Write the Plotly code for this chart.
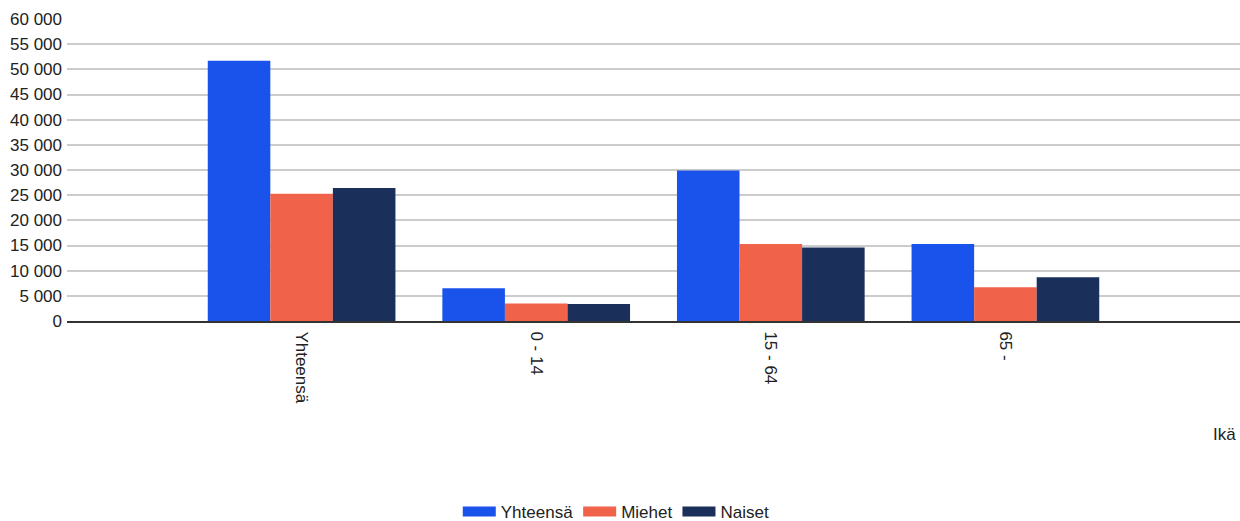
import plotly.graph_objects as go

categories = ["Yhteensä", "0 - 14", "15 - 64", "65 -"]
series_names = ["Yhteensä", "Miehet", "Naiset"]
yhteensa = [51700, 6500, 29900, 15300]
miehet = [25300, 3500, 15300, 6700]
naiset = [26400, 3400, 14600, 8700]
colors = ["#1a53ec", "#f0634a", "#1b2f5b"]
y_ticks = list(range(0, 60001, 5000))

fig = go.Figure()
for name, vals, col in zip(series_names, [yhteensa, miehet, naiset], colors):
    fig.add_trace(go.Bar(name=name, x=categories, y=vals, legendgroup=name,
                         showlegend=False,
                         marker=dict(color=col, line=dict(width=0))))
# legend entries drawn as wide swatches
for name, col in zip(series_names, colors):
    fig.add_trace(go.Scatter(name=name, x=[categories[0]], y=[None], mode="lines",
                             legendgroup=name, showlegend=True,
                             line=dict(color=col, width=13), hoverinfo="skip"))

font_family = "Liberation Sans, Arial, sans-serif"
fs = 17
fig.update_layout(
    width=1240, height=521, autosize=False,
    margin=dict(l=67, r=0, t=19, b=200, autoexpand=False),
    paper_bgcolor="white", plot_bgcolor="white",
    barmode="group", bargap=0.2, bargroupgap=0,
    separators=". ",
    font=dict(family=font_family, size=fs, color="#222"),
    showlegend=True,
    legend=dict(orientation="h", xref="container", x=0.497, xanchor="center",
                yref="container", y=0.0173, yanchor="middle", itemwidth=33,
                font=dict(size=fs, color="#222"), traceorder="normal"),
    xaxis=dict(range=[-1, 4], tickangle=90, showgrid=False,
               showline=True, linecolor="#333", linewidth=2,
               ticks="", ticklabelstandoff=5,
               tickfont=dict(size=fs, color="#222")),
    yaxis=dict(range=[0, 60000], tickvals=y_ticks, tickformat=",d",
               showgrid=True, gridcolor="#cccccc", gridwidth=1.5,
               zeroline=False, ticks="", ticklabelstandoff=4,
               tickfont=dict(size=fs, color="#222")),
    annotations=[dict(text="Ikä", xref="paper", yref="paper", x=0.998, y=-0.377,
                      xanchor="right", yanchor="middle", showarrow=False,
                      font=dict(size=fs, color="#222"))],
)

fig.write_html("out.html", config={"displayModeBar": False},
               post_script="document.body.style.margin='0';document.body.style.overflow='hidden';")
